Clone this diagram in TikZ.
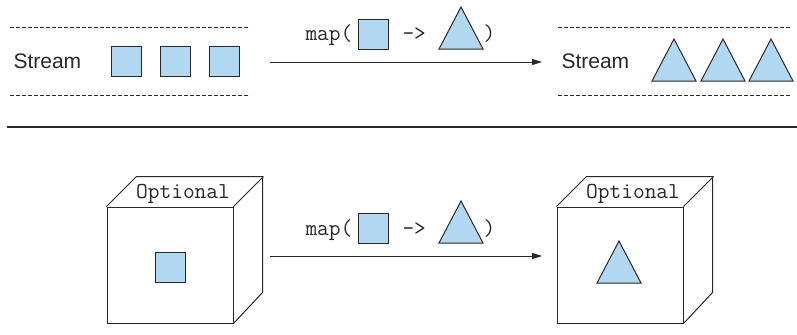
\documentclass[tikz,border=0pt]{standalone}
\usepackage{fontspec}
\setmainfont{Liberation Sans}
\usetikzlibrary{arrows.meta}
\definecolor{shapeblue}{RGB}{178,216,241}
\definecolor{linegray}{RGB}{40,40,40}

\begin{document}
\begin{tikzpicture}[x=0.5pt, y=-0.5pt, line width=0.5pt, color=linegray,
  sq/.style={draw=linegray, fill=shapeblue, minimum size=15pt, inner sep=0pt},
  tri/.pic={\draw[fill=shapeblue] (-11pt,-10.5pt) -- (0pt,10.5pt) -- (11pt,-10.5pt) -- cycle;},
  lbl/.style={font=\fontsize{10.5}{12}\selectfont, anchor=base west, inner sep=0pt},
  code/.style={font=\ttfamily\fontsize{11.4}{13}\selectfont, anchor=base west, inner sep=0pt},
  guide/.style={dash pattern=on 2pt off 1pt},
  mapto/.style={-{Triangle[length=5pt,width=3pt]}},
  cubebox/.style={draw=linegray, minimum width=63pt, minimum height=58pt, inner sep=0pt}]
  \useasboundingbox (0,0) rectangle (797,334);
  % stream of squares
  \draw[guide] (10,27) -- (250,27);
  \draw[guide] (10,95) -- (250,95);
  \node[lbl] (instream) at (13,68) {Stream};
  \node[sq] (sqa) at (126,61) {};
  \node[sq] (sqb) at (175,61) {};
  \node[sq] (sqc) at (224,61) {};
  % map on the stream
  \coordinate (streamfrom) at (270,62);
  \coordinate (streamto) at (542,62);
  \draw[mapto] (streamfrom) -- (streamto);
  \node[code] (streammap) at (305,40) {map(};
  \node[sq] (streamsq) at (373,34) {};
  \node[code] (streamarrow) at (402,40) {->};
  \pic at (461,28) {tri};
  \node[code] (streamclose) at (483,40) {)};
  % stream of triangles
  \draw[guide] (558,27) -- (790,27);
  \draw[guide] (558,95) -- (790,95);
  \node[lbl] (outstream) at (561,68) {Stream};
  \pic at (674,60) {tri};
  \pic at (723,60) {tri};
  \pic at (771,60) {tri};
  % separator
  \draw[line width=0.8pt] (7,127) -- (797,127);
  % optional holding a square
  \node[cubebox] (optin) at (170,265) {};
  \draw (optin.north west) -- ++(15pt,15pt) -- ++(63pt,0pt) -- ++(0pt,-58pt) -- (optin.south east);
  \draw (optin.north east) -- ++(15pt,15pt);
  \node[code, anchor=base] (optinlbl) at (183,198) {Optional};
  \node[sq] (insq) at (170,267) {};
  % map on the optional
  \coordinate (optfrom) at (270,256);
  \coordinate (optto) at (542,256);
  \draw[mapto] (optfrom) -- (optto);
  \node[code] (optmap) at (305,235) {map(};
  \node[sq] (optsq) at (373,228) {};
  \node[code] (optarrow) at (402,235) {->};
  \pic at (461,222) {tri};
  \node[code] (optclose) at (483,235) {)};
  % optional holding a triangle
  \node[cubebox] (optout) at (620,265) {};
  \draw (optout.north west) -- ++(15pt,15pt) -- ++(63pt,0pt) -- ++(0pt,-58pt) -- (optout.south east);
  \draw (optout.north east) -- ++(15pt,15pt);
  \node[code, anchor=base] (optoutlbl) at (633,198) {Optional};
  \pic at (619,262) {tri};
\end{tikzpicture}
\end{document}
